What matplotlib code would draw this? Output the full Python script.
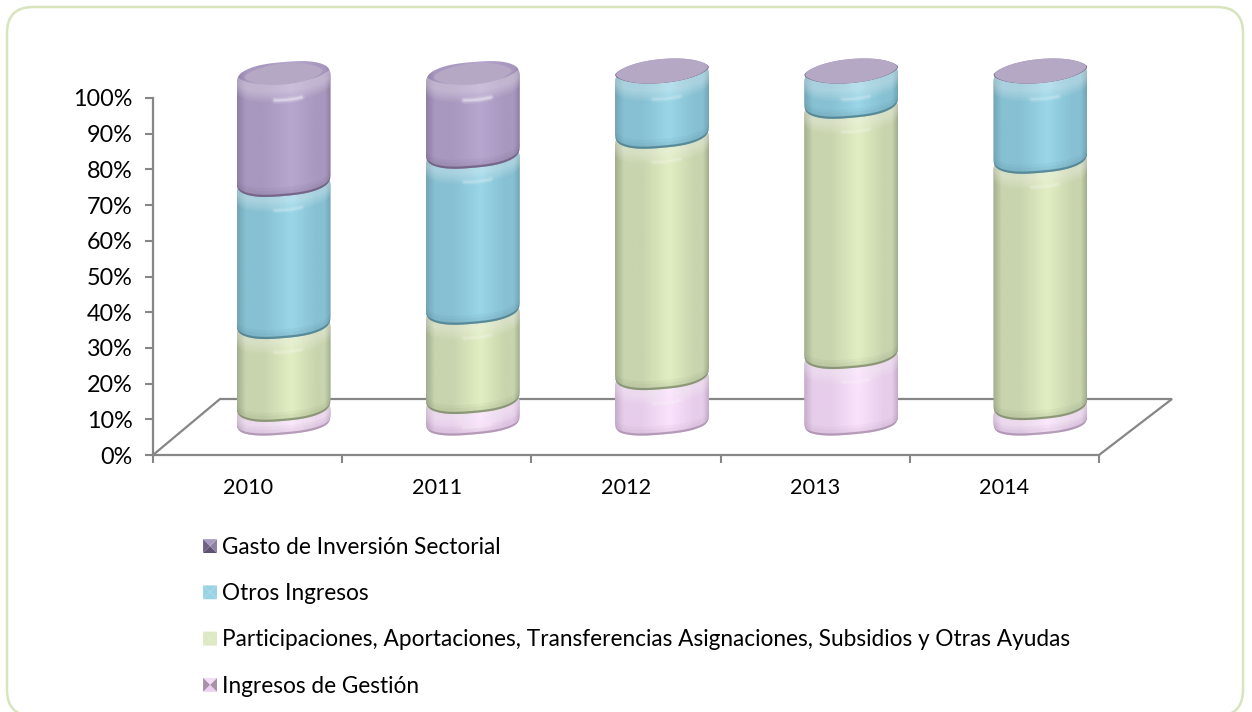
import numpy as np
import matplotlib
matplotlib.use("Agg")
import matplotlib.pyplot as plt
from matplotlib.colors import LinearSegmentedColormap
from matplotlib.patches import PathPatch, FancyBboxPatch, Polygon, Patch
from matplotlib.path import Path
from matplotlib.legend_handler import HandlerBase

# ---------- data ----------
years = ["2010", "2011", "2012", "2013", "2014"]
ingresos_gestion = [4.5, 6.7, 13.4, 19.3, 5.0]
participaciones = [23.2, 25.0, 67.6, 70.1, 69.0]
otros_ingresos = [39.8, 43.7, 19.0, 10.6, 26.0]
gasto_inversion = [32.5, 24.6, 0.0, 0.0, 0.0]
y_ticks = list(range(0, 101, 10))
legend_labels = ["Gasto de Inversión Sectorial", "Otros Ingresos",
                 "Participaciones, Aportaciones, Transferencias Asignaciones, Subsidios y Otras Ayudas",
                 "Ingresos de Gestión"]

W, H = 1252, 712
plt.rcParams["font.family"] = ["Lato", "DejaVu Sans"]
AXC = "#868686"

fig = plt.figure(figsize=(W / 100, H / 100), dpi=100, facecolor="white")

px = fig.add_axes([0, 0, 1, 1], zorder=0)
px.set_axis_off()

L, R, T, B = 153, 1099, 98, 455
ax = fig.add_axes([L / W, 1 - B / H, (R - L) / W, (B - T) / H], zorder=2)
ax.patch.set_alpha(0)
ax.set_xlim(-0.5, 4.5)
ax.set_ylim(0, 100)
ax.set_yticks(y_ticks)
ax.set_yticklabels([f"{v}%" for v in y_ticks], fontsize=16.8, color="black")
ax.set_xticks(np.arange(-0.5, 5, 1))
ax.set_xticklabels([])
ax.tick_params(axis="both", color=AXC, width=1.5, length=5.8, pad=9)
for s in ("top", "right"):
    ax.spines[s].set_visible(False)
for s in ("left", "bottom"):
    ax.spines[s].set_color(AXC)
    ax.spines[s].set_linewidth(1.6)
for i, y in enumerate(years):
    ax.annotate(y, (i, 0), xytext=(0, -33), textcoords="offset pixels",
                ha="center", va="center", fontsize=15.6, color="black")

fig.canvas.draw()


def to_px(i, v):
    x, y = ax.transData.transform((i, v))
    return x, H - y


px.add_patch(FancyBboxPatch((7 + 26, 7 + 26), 1236 - 52, 709 - 52,
                            boxstyle="round,pad=26,rounding_size=26",
                            fc="white", ec="#D8E4BC", lw=1.8, zorder=0, clip_on=False))

fx0, fy0 = to_px(-0.5, 0)
fx1, fy1 = to_px(4.5, 0)
px.plot([fx0, fx0 + 67, fx1 + 73, fx1], [fy0, 399, 399, fy1], color=AXC, lw=1.6,
        zorder=1, solid_joinstyle="miter")

DX, DY = 36, -30
A, BB, K = 47.0, 12.0, 4.0
STOPS = [0, 0.09, 0.28, 0.58, 0.85, 0.94, 1]
E_BODY = 0.72


def curve(cx, cy, ts, a=A, b=BB, e=E_BODY):
    c, s = np.cos(ts), np.sin(ts)
    x = a * np.sign(c) * np.abs(c) ** e
    y = b * np.sign(s) * np.abs(s) ** 1.25
    return cx + x, cy + y - K * x / A


def smooth_closed(xy, win=15.0, n=900):
    """Resample a closed outline uniformly and round its corners."""
    closed = np.r_[xy, xy[:1]]
    seg = np.hypot(*np.diff(closed, axis=0).T)
    s = np.r_[0, np.cumsum(seg)]
    u = np.linspace(0, s[-1], n, endpoint=False)
    x = np.interp(u, s, closed[:, 0])
    y = np.interp(u, s, closed[:, 1])
    k = max(3, int(win / (s[-1] / n)))
    ker = np.ones(k) / k
    sx = np.convolve(np.r_[x[-k:], x, x[:k]], ker, mode="same")[k:-k]
    sy = np.convolve(np.r_[y[-k:], y, y[:k]], ker, mode="same")[k:-k]
    return np.c_[sx, sy]


def body(ax_, cx, ct, cb, rim, dark, mid, light, z, bot_b=BB, top_face=None, glow=0.5):
    height = cb - ct
    e = 0.95 if height == 0 else E_BODY
    t_top = np.linspace(np.pi, 2 * np.pi, 80)
    t_bot = np.linspace(0, np.pi, 80)
    xt, yt = curve(cx, ct, t_top, e=e)
    xb, yb = curve(cx, cb, t_bot, b=bot_b, e=e)
    raw = np.r_[np.c_[xt, yt], np.c_[xb, yb]]
    outline = smooth_closed(raw, win=14.0 if height > 0 else 4.0)
    verts = np.r_[outline, outline[:1]]
    codes = [Path.MOVETO] + [Path.LINETO] * (len(verts) - 2) + [Path.CLOSEPOLY]
    patch = PathPatch(Path(verts, codes), fc="none", ec="none", zorder=z,
                      transform=ax_.transData)
    ax_.add_patch(patch)
    cmap = LinearSegmentedColormap.from_list(
        "g", list(zip(STOPS, [dark, mid, mid, light, mid, mid, dark])))
    grad = np.linspace(0, 1, 128)[None, :]
    im = ax_.imshow(grad, cmap=cmap, extent=(cx - A, cx + A, cb + BB + K + 2, ct - BB - K - 2),
                    aspect="auto", interpolation="bilinear", zorder=z)
    im.set_clip_path(patch)
    tf = np.linspace(0, np.pi, 80)
    fx, fy = curve(cx, ct, tf, e=e)
    if height > 0:
        bh = min(15, height)
        for f in np.linspace(0.35, 1, 6):
            ax_.add_patch(Polygon(np.r_[np.c_[fx, fy - 3], np.c_[fx[::-1], fy[::-1] + bh * f]],
                                  fc="white", alpha=0.06, ec="none", zorder=z + 0.1,
                                  clip_path=patch))
        hl_t = np.linspace(1.15, 1.85, 20)
        hx, hy = curve(cx + 2, ct, hl_t, a=A - 8, e=1)
        for lw, al in ((5, 0.1), (3, 0.2), (1.6, 0.3)):
            ax_.plot(hx, hy + bh - 1, color="white", lw=lw, alpha=al * glow, zorder=z + 0.2,
                     solid_capstyle="round", clip_path=patch)
        for d in (3, 6, 9):
            bx, by = curve(cx, cb, tf, b=bot_b, e=e)
            ax_.add_patch(Polygon(np.r_[np.c_[bx, by + 1], np.c_[bx[::-1], by[::-1] - d]],
                                  fc=rim, alpha=0.07, ec="none", zorder=z + 0.15, clip_path=patch))
    ax_.plot(xb, yb - 0.8, color=rim, lw=2.0, alpha=0.8, zorder=z + 0.2, clip_path=patch)
    if top_face is not None:
        tt = np.linspace(0, 2 * np.pi, 160)
        ex, ey = curve(cx, ct, tt, a=A - 1 if height == 0 else A - 8,
                       b=BB if height == 0 else BB - 1.5, e=0.95)
        ax_.add_patch(Polygon(np.c_[ex, ey], fc=top_face, ec="none", zorder=z + 0.3))


series = [
    (ingresos_gestion, "#A98FAC", "#C6ACC9", "#E6CDEA", "#FBE2FC"),
    (participaciones, "#7E8A6C", "#A3AE8F", "#C8D4AD", "#E2EEC2"),
    (otros_ingresos, "#4F7E8C", "#73A6B6", "#86C0D2", "#9AD6E8"),
    (gasto_inversion, "#6B5C7E", "#8F7FA5", "#A897BE", "#B7A6CF"),
]
TOP_FACE = "#B4A8C4"

for i in range(len(years)):
    base = 0.0
    for j, (vals, rim, dark, mid, light) in enumerate(series):
        v = vals[i]
        x0, yb = to_px(i, base)
        _, yt = to_px(i, base + v)
        no_cap = gasto_inversion[i] == 0
        ct = yt + DY
        cb = yb + DY
        if j == 3:
            ct += 3 if no_cap else 6
            cb += 3 if no_cap else 0
        elif j == 2 and no_cap:
            ct += 5
        body(px, x0 + DX, ct, cb, rim, dark, mid, light, 3 + j,
             bot_b=9.5 if j == 0 else BB,
             top_face=TOP_FACE if j == 3 else None,
             glow=1.0 if j == 3 else 0.5)
        base += v

px.set_xlim(0, W)
px.set_ylim(H, 0)
px.set_aspect("auto")


class PyramidHandler(HandlerBase):
    def create_artists(self, legend, orig, xd, yd, w, h, fontsize, trans):
        side = 10
        x0, y0 = -xd + (w - side) / 2, -yd + (h - side) / 2
        xc, yc = x0 + side / 2, y0 + side / 2
        corners = [(x0, y0), (x0 + side, y0), (x0 + side, y0 + side), (x0, y0 + side)]
        arts = []
        for n, col in enumerate(orig.tris):
            a, b = corners[n], corners[(n + 1) % 4]
            arts.append(Polygon([a, b, (xc, yc)], fc=col, ec="none", transform=trans))
        return arts


h_purple = Patch(label=legend_labels[0]); h_purple.tris = ["#5F5270", "#8E7FA3", "#A99AC0", "#6F6085"]
h_blue = Patch(label=legend_labels[1]); h_blue.tris = ["#9AD3E5"] * 4
h_green = Patch(label=legend_labels[2]); h_green.tris = ["#DDE9C3"] * 4
h_pink = Patch(label=legend_labels[3]); h_pink.tris = ["#EBCFF0", "#A890A8", "#F3DDF6", "#A890A8"]
fig.legend(handles=[h_purple, h_blue, h_green, h_pink], handler_map={Patch: PyramidHandler()},
           loc="upper left", bbox_to_anchor=(203 / W, 1 - 537 / H), frameon=False,
           fontsize=16.3, labelspacing=1.115, handlelength=0.62, handletextpad=0.22,
           borderpad=0, borderaxespad=0, labelcolor="black")

fig.savefig("out.png", dpi=100)
